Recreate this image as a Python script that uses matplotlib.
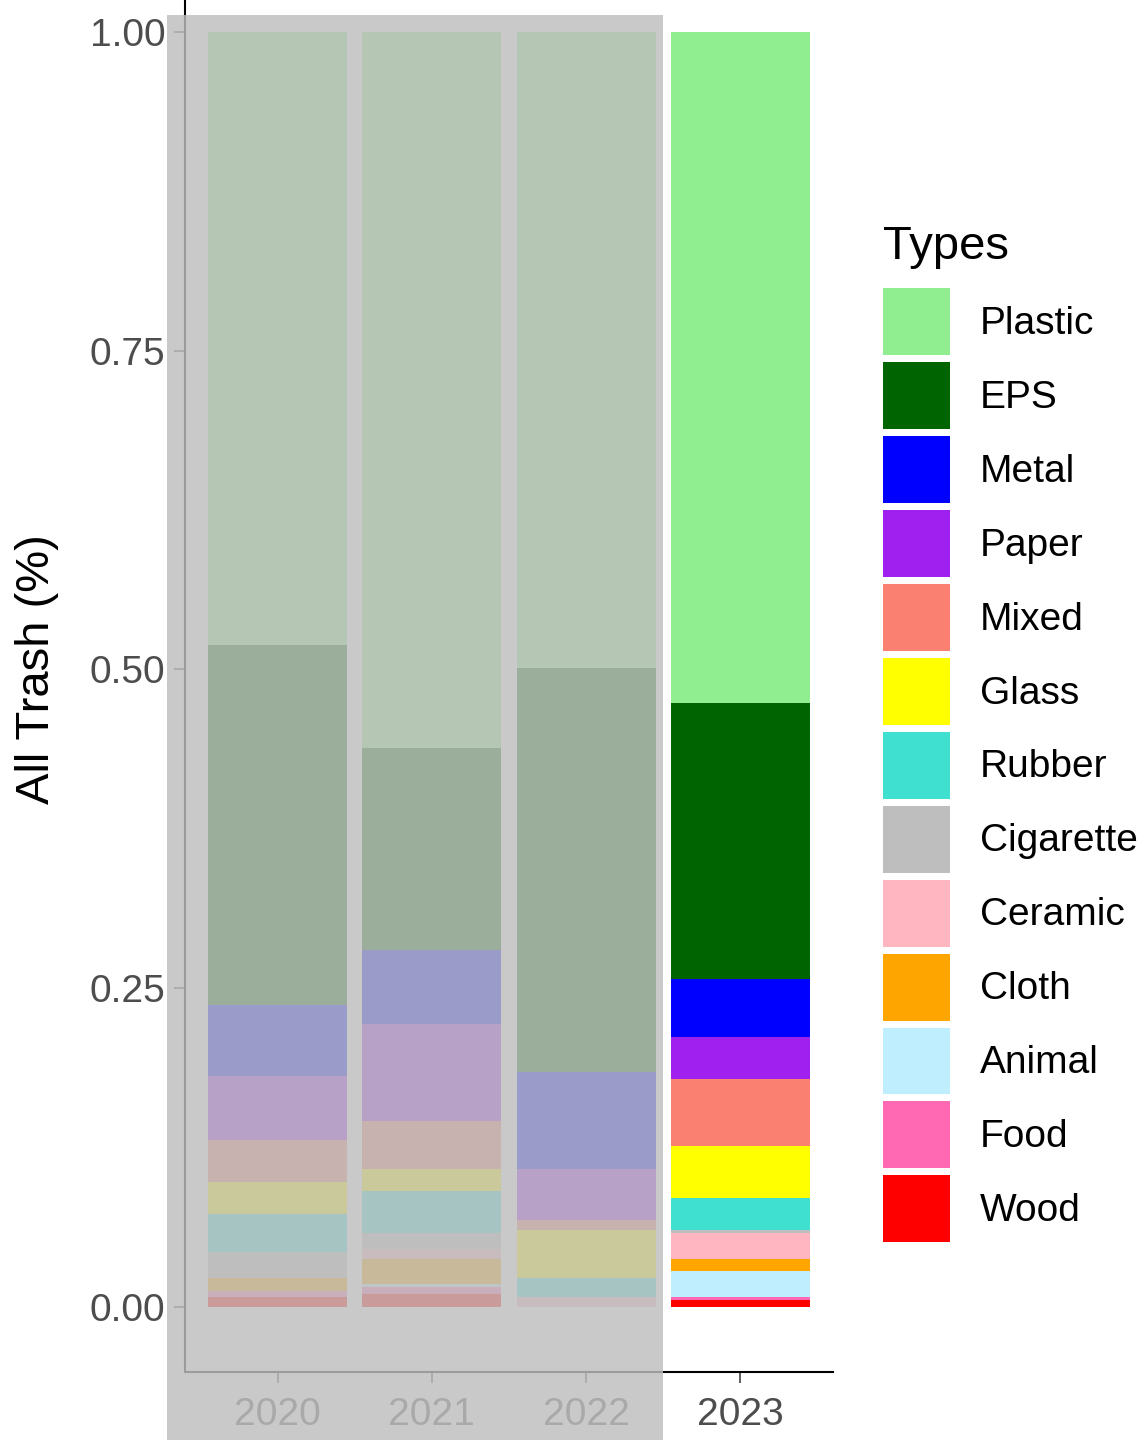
import matplotlib
matplotlib.use("Agg")
import matplotlib.pyplot as plt
from matplotlib.patches import Patch, Rectangle
import numpy as np

plt.rcParams['font.family'] = ['Liberation Sans', 'DejaVu Sans']

# data (share of all trash per year)
years = ["2020", "2021", "2022", "2023"]
types = ["Wood", "Food", "Animal", "Cloth", "Ceramic", "Cigarette", "Rubber",
         "Glass", "Mixed", "Paper", "Metal", "EPS", "Plastic"]

wood = [0.0078, 0.0102, 0.0, 0.0055]
food = [0.0047, 0.0055, 0.0, 0.0024]
animal = [0.0, 0.0024, 0.0, 0.0204]
cloth = [0.0102, 0.0196, 0.0, 0.0094]
ceramic = [0.0, 0.0078, 0.0078, 0.0204]
cigarette = [0.0204, 0.0125, 0.0, 0.0024]
rubber = [0.0298, 0.0329, 0.0149, 0.0251]
glass = [0.0251, 0.0173, 0.0376, 0.0408]
mixed = [0.0329, 0.0376, 0.0078, 0.0525]
paper = [0.0502, 0.0761, 0.0400, 0.0329]
metal = [0.0557, 0.0580, 0.0761, 0.0455]
eps = [0.2824, 0.1584, 0.3169, 0.2165]
plastic = [0.4808, 0.5616, 0.4988, 0.5263]

colors = {"Plastic": "#90EE90", "EPS": "#006400", "Metal": "#0000FF",
          "Paper": "#A020F0", "Mixed": "#FA8072", "Glass": "#FFFF00",
          "Rubber": "#40E0D0", "Cigarette": "#BEBEBE", "Ceramic": "#FFB6C1",
          "Cloth": "#FFA500", "Animal": "#BFEFFF", "Food": "#FF69B4",
          "Wood": "#FF0000"}

values = [wood, food, animal, cloth, ceramic, cigarette, rubber,
          glass, mixed, paper, metal, eps, plastic]

W, H = 1145, 1440
fig = plt.figure(figsize=(W / 100, H / 100), dpi=100)
ax = fig.add_axes([185 / W, 1 - 1372 / H, (833 - 185) / W, 1372 / H])

x = np.arange(1, len(years) + 1)
bottom = np.zeros(len(years))
for name, vals in zip(types, values):
    ax.bar(x, vals, width=0.9, bottom=bottom, color=colors[name], linewidth=0)
    bottom += np.array(vals)

ax.set_xlim(0.4, 4.6)
ax.set_ylim(-0.051, 1.025)
ax.set_xticks(x)
ax.set_xticklabels(years)
ax.set_yticks([0, 0.25, 0.5, 0.75, 1.0])
ax.set_yticklabels(["0.00", "0.25", "0.50", "0.75", "1.00"])
ax.tick_params(axis='both', labelsize=28, labelcolor='#4D4D4D', color='#333333',
               length=8, width=1.1, pad=6)
ax.tick_params(axis='x', pad=10)
for s in ['top', 'right']:
    ax.spines[s].set_visible(False)
for s in ['left', 'bottom']:
    ax.spines[s].set_linewidth(1.5)
    ax.spines[s].set_color('black')

ax.set_ylabel("All Trash (%)", fontsize=34, color='black')
ax.yaxis.set_label_coords(-0.195, 0.512)

# legend, top-down order
handles = [Patch(facecolor=colors[t], edgecolor='none', label=t) for t in types[::-1]]
leg = fig.legend(handles=handles, loc='upper left', bbox_to_anchor=(883 / W, 1 - 225 / H),
                 frameon=False, fontsize=28, title="Types", title_fontsize=34,
                 handlelength=1.72, handleheight=2.27, labelspacing=0.18,
                 handletextpad=0.77, borderpad=0, borderaxespad=0)
leg._legend_box.align = "left"
leg._legend_box.sep = 14

# grey overlay over the earlier years
ax.add_artist(Rectangle((167 / W, 0), (663 - 167) / W, (H - 15) / H,
                        transform=fig.transFigure, facecolor='#BEBEBE',
                        edgecolor='none', alpha=0.82, zorder=10, clip_on=False))

fig.savefig("out.png", dpi=100)
